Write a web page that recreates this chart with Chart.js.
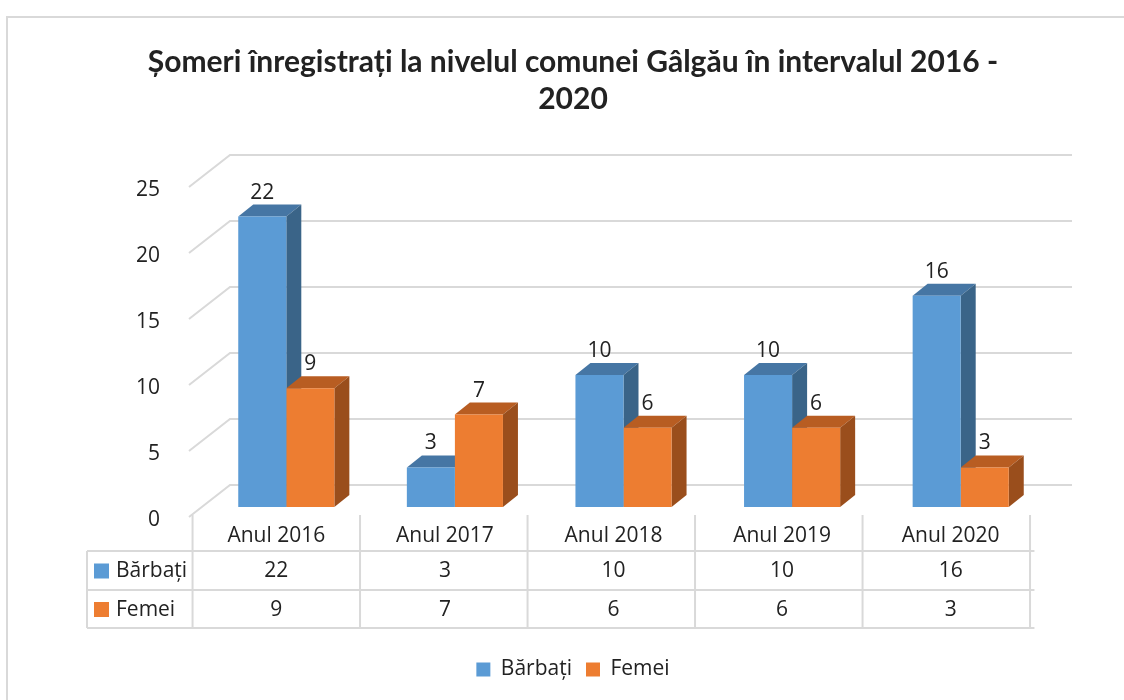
<!DOCTYPE html>
<html>
<head>
<meta charset="utf-8">
<script src="https://cdn.jsdelivr.net/npm/chart.js@4.4.0/dist/chart.umd.min.js"></script>
<style>
  html, body { margin: 0; padding: 0; background: #fff; }
  #wrap { width: 1124px; height: 700px; }
</style>
</head>
<body>
<div id="wrap"><canvas id="graficoSomeri" width="1124" height="700"></canvas></div>
<script>
// date
var categorii = ['Anul 2016', 'Anul 2017', 'Anul 2018', 'Anul 2019', 'Anul 2020'];
var barbati = [22, 3, 10, 10, 16];
var femei = [9, 7, 6, 6, 3];
var serii = ['Bărbați', 'Femei'];
var valoriAxa = [0, 5, 10, 15, 20, 25];

var culoriFata = ['#5B9BD5', '#ED7D31'];
var culoriSus = ['#4676A4', '#B85D22'];
var culoriLateral = ['#3A6488', '#9A4E1C'];
var culoareGrila = '#D9D9D9';
var culoareText = '#222222';

// adancime 3D a barelor si a peretelui din spate
var adX = 15, adY = 12;

var efect3D = {
    id: 'efect3D',
    beforeDatasetsDraw: function(chart) {
        var ctx = chart.ctx;
        var y = chart.scales.y;
        var a = chart.chartArea;
        var stanga = a.left + 28, dreapta = a.right + 27;
        ctx.save();
        ctx.strokeStyle = culoareGrila;
        ctx.lineWidth = 2;
        valoriAxa.forEach(function(v) {
            var py = y.getPixelForValue(v) - 22;
            ctx.beginPath();
            ctx.moveTo(stanga - 41, py + 32);
            ctx.lineTo(stanga, py);
            ctx.lineTo(dreapta, py);
            ctx.stroke();
        });
        // fetele de sus si laterale, desenate inaintea fetelor din fata
        var n = chart.data.labels.length;
        for (var i = 0; i < n; i++) {
            chart.data.datasets.forEach(function(ds, d) {
                var bar = chart.getDatasetMeta(d).data[i];
                var p = bar.getProps(['x', 'y', 'base', 'width'], true);
                var l = p.x - p.width / 2, r = p.x + p.width / 2;
                ctx.fillStyle = culoriSus[d];
                ctx.beginPath();
                ctx.moveTo(l, p.y);
                ctx.lineTo(l + adX, p.y - adY);
                ctx.lineTo(r + adX, p.y - adY);
                ctx.lineTo(r, p.y);
                ctx.closePath();
                ctx.fill();
                ctx.fillStyle = culoriLateral[d];
                ctx.beginPath();
                ctx.moveTo(r, p.y);
                ctx.lineTo(r + adX, p.y - adY);
                ctx.lineTo(r + adX, p.base - adY);
                ctx.lineTo(r, p.base);
                ctx.closePath();
                ctx.fill();
            });
        }
        ctx.restore();
    },
    afterDatasetsDraw: function(chart) {
        var ctx = chart.ctx;
        ctx.save();
        ctx.font = '21px "Open Sans"';
        ctx.fillStyle = culoareText;
        ctx.textAlign = 'center';
        ctx.textBaseline = 'middle';
        chart.data.datasets.forEach(function(ds, d) {
            chart.getDatasetMeta(d).data.forEach(function(bar, i) {
                var p = bar.getProps(['x', 'y'], true);
                ctx.fillText(ds.data[i], p.x, p.y - 24);
            });
        });
        ctx.restore();
    },
    afterDraw: function(chart) {
        var ctx = chart.ctx;
        var x = chart.scales.x;
        var a = chart.chartArea;
        var lat = 167.5;
        var centre = chart.data.labels.map(function(c, i) { return x.getPixelForValue(i) - 10; });
        var st = centre[0] - lat / 2;
        var dr = centre[centre.length - 1] + lat / 2;
        var sus = a.bottom + 8;
        var r1 = a.bottom + 44, r2 = a.bottom + 83, r3 = a.bottom + 121;
        var stTabel = 87;
        ctx.save();
        // chenarul exterior
        ctx.strokeStyle = culoareGrila;
        ctx.lineWidth = 2;
        ctx.beginPath();
        ctx.moveTo(7, 700);
        ctx.lineTo(7, 17);
        ctx.lineTo(1124, 17);
        ctx.stroke();
        // liniile tabelului
        ctx.beginPath();
        [r1, r2, r3].forEach(function(ry) {
            ctx.moveTo(stTabel, ry);
            ctx.lineTo(dr, ry);
        });
        ctx.moveTo(stTabel, r1);
        ctx.lineTo(stTabel, r3);
        for (var k = 0; k <= centre.length; k++) {
            var vx = st + k * lat;
            ctx.moveTo(vx, sus);
            ctx.lineTo(vx, r3);
        }
        ctx.stroke();
        // continutul tabelului
        ctx.font = '21px "Open Sans"';
        ctx.textBaseline = 'middle';
        var randuri = [barbati, femei];
        randuri.forEach(function(valori, d) {
            var cy = d === 0 ? (r1 + r2) / 2 : (r2 + r3) / 2;
            ctx.fillStyle = culoriFata[d];
            ctx.fillRect(94, cy - 7, 15, 15);
            ctx.fillStyle = culoareText;
            ctx.textAlign = 'left';
            ctx.fillText(serii[d], 116, cy + 1);
            ctx.textAlign = 'center';
            valori.forEach(function(v, i) {
                ctx.fillText(v, centre[i], cy + 1);
            });
        });
        ctx.restore();
    }
};

var ctx = document.getElementById('graficoSomeri').getContext('2d');

var grafic = new Chart(ctx, {
    type: 'bar',
    data: {
        labels: categorii,
        datasets: [{
            label: serii[0],
            data: barbati,
            backgroundColor: culoriFata[0],
            borderWidth: 0
        }, {
            label: serii[1],
            data: femei,
            backgroundColor: culoriFata[1],
            borderWidth: 0
        }]
    },
    options: {
        responsive: false,
        animation: false,
        layout: {
            padding: { left: 101, right: 79, top: 24, bottom: 10 }
        },
        datasets: {
            bar: { categoryPercentage: 0.57, barPercentage: 1.0 }
        },
        scales: {
            x: {
                grid: { display: false },
                border: { display: false },
                ticks: {
                    color: culoareText,
                    font: { family: 'Open Sans', size: 21 },
                    padding: 8,
                    labelOffset: -10,
                    maxRotation: 0
                },
                afterFit: function(scale) { scale.height = 138; }
            },
            y: {
                min: 0,
                max: 25,
                grid: { display: false },
                border: { display: false },
                ticks: {
                    stepSize: 5,
                    color: culoareText,
                    font: { family: 'Open Sans', size: 21 },
                    padding: 34,
                    labelOffset: 13
                },
                afterFit: function(scale) { scale.width = 101; }
            }
        },
        plugins: {
            title: {
                display: true,
                text: ['Șomeri înregistrați la nivelul comunei Gâlgău în intervalul 2016 -', '2020'],
                color: culoareText,
                font: { family: 'Lato', size: 30, weight: 'bold', lineHeight: 1.233 },
                padding: { top: 20, bottom: 59 }
            },
            legend: {
                position: 'bottom',
                labels: {
                    color: culoareText,
                    font: { family: 'Open Sans', size: 21 },
                    boxWidth: 14,
                    boxHeight: 14,
                    padding: 14
                }
            },
            tooltip: { enabled: false }
        }
    },
    plugins: [efect3D]
});
</script>
</body>
</html>
